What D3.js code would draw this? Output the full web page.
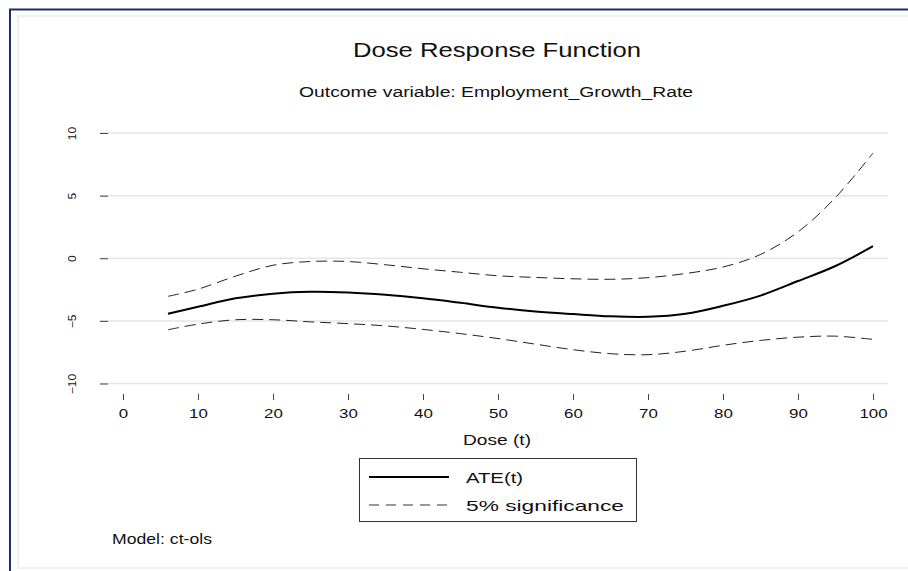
<!DOCTYPE html>
<html>
<head>
<meta charset="utf-8">
<script src="https://cdn.jsdelivr.net/npm/d3@7"></script>
<style>
  html, body { margin: 0; padding: 0; background: #fff; }
  svg { display: block; font-family: "Liberation Sans", Arial, sans-serif; }
</style>
</head>
<body>
<svg id="chart" width="908" height="571"></svg>
<script>
const doses = [6, 10, 15, 20, 25, 30, 35, 40, 45, 50, 55, 60, 65, 70, 75, 80, 85, 90, 95, 100];
const ate   = [-4.43, -3.88, -3.20, -2.83, -2.68, -2.74, -2.92, -3.20, -3.56, -3.95, -4.25, -4.46, -4.64, -4.68, -4.44, -3.80, -2.98, -1.82, -0.62, 0.96];
const upper = [-3.04, -2.47, -1.43, -0.56, -0.26, -0.26, -0.52, -0.84, -1.12, -1.40, -1.53, -1.64, -1.68, -1.55, -1.22, -0.70, 0.30, 2.10, 4.85, 8.40];
const lower = [-5.71, -5.26, -4.91, -4.91, -5.08, -5.22, -5.40, -5.68, -6.02, -6.41, -6.86, -7.30, -7.62, -7.70, -7.42, -6.95, -6.56, -6.30, -6.22, -6.48];
const xTicks = [0, 10, 20, 30, 40, 50, 60, 70, 80, 90, 100];
const yTicks = [-10, -5, 0, 5, 10];
const legendLabels = ["ATE(t)", "5% significance"];

const svg = d3.select("#chart");
const FONT = "Liberation Sans, Arial, sans-serif";

// frames
svg.append("rect").attr("x", 18).attr("y", 16).attr("width", 900).attr("height", 552)
  .attr("fill", "#fff").attr("stroke", "#ececec").attr("stroke-width", 1.5);
svg.append("path").attr("d", "M10,575 L10,9.5 L915,9.5")
  .attr("fill", "none").attr("stroke", "#1b2f6e").attr("stroke-width", 2);

const x = d3.scaleLinear().domain([0, 100]).range([123, 873]);
const y = d3.scaleLinear().domain([-10, 10]).range([383.5, 133]);

// gridlines
svg.append("g").selectAll("line").data(yTicks).join("line")
  .attr("x1", 100).attr("x2", 888)
  .attr("y1", d => y(d)).attr("y2", d => y(d))
  .attr("stroke", "#e6e6e6").attr("stroke-width", 1.5);

// y axis
const yAxis = svg.append("g").attr("transform", "translate(108,0)")
  .call(d3.axisLeft(y).tickValues(yTicks).tickSize(8).tickFormat(d3.format("d")));
yAxis.select(".domain").remove();
yAxis.selectAll(".tick line").attr("stroke", "#444").attr("stroke-width", 1);
yAxis.selectAll(".tick text").attr("font-size", 10.5).attr("fill", "#111")
  .attr("font-family", FONT)
  .attr("x", null)
  .attr("text-anchor", "middle")
  .attr("transform", "translate(-36,0) rotate(-90) scale(1.15,1)")
  .attr("dy", "0.35em");

// x axis
const xAxis = svg.append("g").attr("transform", "translate(0,394)")
  .call(d3.axisBottom(x).tickValues(xTicks).tickSize(6).tickPadding(9).tickFormat(d3.format("d")));
xAxis.select(".domain").remove();
xAxis.selectAll(".tick line").attr("stroke", "#444").attr("stroke-width", 1);
xAxis.selectAll(".tick text").attr("font-size", 12.5).attr("fill", "#111")
  .attr("font-family", FONT)
  .attr("transform", "scale(1.35,1)");

// lines
const line = (vals) => d3.line()
  .x((d, i) => x(doses[i]))
  .y(d => y(d))
  .curve(d3.curveCatmullRom.alpha(0.5))(vals);

svg.append("path").attr("d", line(upper)).attr("fill", "none")
  .attr("stroke", "#222").attr("stroke-width", 1).attr("stroke-dasharray", "11,6");
svg.append("path").attr("d", line(lower)).attr("fill", "none")
  .attr("stroke", "#222").attr("stroke-width", 1).attr("stroke-dasharray", "11,6");
svg.append("path").attr("d", line(ate)).attr("fill", "none")
  .attr("stroke", "#000").attr("stroke-width", 2);

// titles
function label(txt, cx, by, size, len, anchor) {
  return svg.append("text").attr("x", cx).attr("y", by)
    .attr("text-anchor", anchor || "middle")
    .attr("font-size", size).attr("fill", "#111")
    .attr("textLength", len).attr("lengthAdjust", "spacingAndGlyphs")
    .text(txt);
}
label("Dose Response Function", 497, 57, 21, 288);
label("Outcome variable: Employment_Growth_Rate", 496, 97, 14, 394);
label("Dose (t)", 497, 445, 15, 68);

// legend
const lg = svg.append("g");
lg.append("rect").attr("x", 359.5).attr("y", 458.5).attr("width", 277).attr("height", 63)
  .attr("fill", "#fff").attr("stroke", "#333").attr("stroke-width", 1);
lg.append("line").attr("x1", 369).attr("x2", 449).attr("y1", 477).attr("y2", 477)
  .attr("stroke", "#000").attr("stroke-width", 2);
lg.append("line").attr("x1", 369).attr("x2", 449).attr("y1", 505).attr("y2", 505)
  .attr("stroke", "#333").attr("stroke-width", 1).attr("stroke-dasharray", "10,7");
const legendLens = [57, 158];
lg.selectAll("text").data(legendLabels).join("text")
  .attr("x", 466).attr("y", (d, i) => 483 + i * 28)
  .attr("font-size", 14.5).attr("fill", "#111")
  .attr("textLength", (d, i) => legendLens[i]).attr("lengthAdjust", "spacingAndGlyphs")
  .text(d => d);

label("Model: ct-ols", 112, 544, 14.5, 100, "start");
</script>
</body>
</html>
